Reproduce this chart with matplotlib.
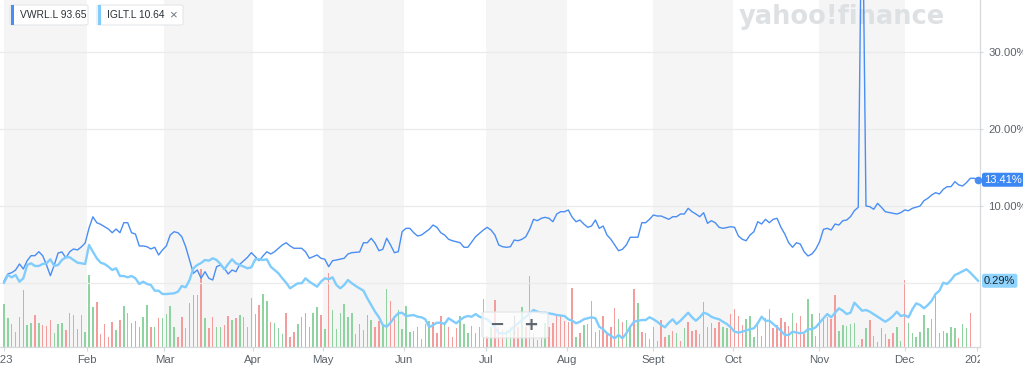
import matplotlib
matplotlib.use("Agg")
import matplotlib.pyplot as plt
from matplotlib.patches import FancyBboxPatch, Rectangle
from matplotlib.transforms import Bbox, TransformedBbox, blended_transform_factory, ScaledTranslation

# ---------------- data (trading-day index from 3 Jan 2023, % change) ----------------
vwrl_day = [0,1,2,3,4,5,6,7,8,9,10,11,12,13,14,15,16,17,18,19,20,21,22,23,24,25,26,27,28,29,
            30,31,32,33,34,35,36,37,38,39,40,41,42,43,44,45,46,47,48,49,50,51,52,53,54,55,56,57,58,59,
            60,61,63,64,65,66,67,68,69,70,72,73,74,75,77,78,79,80,81,82,83,84,85,86,88,89,90,92,93,94,
            95,96,97,98,99,100,101,102,103,104,105,106,107,108,110,111,112,113,114,115,116,118,119,120,
            122,123,124,125,126,127,128,129,130,131,132,133,134,135,136,137,138,139,140,141,142,143,144,
            145,146,147,148,149,150,151,152,153,154,155,156,157,158,159,160,161,162,164,165,166,167,168,
            169,170,172,173,174,175,176,177,178,179,180,181,182,183,184,185,186,188,189,190,191,192,193,
            194,195,196,197,198,199,200,201,202,203,204,205,206,207,208,209,210,211,212,213,214,215,216,
            217,218,219,220,221,222,223,224,225,226,227,228,230,231,232,233,234,235,237,238,239,240,241,
            242,243,244,245,246,247,248,249,250,251,252]
vwrl_pct = [0.26,1.17,1.34,1.69,2.47,1.82,2.90,3.55,3.55,4.06,3.55,2.34,0.95,2.34,3.90,4.03,3.25,4.06,4.42,4.29,
            4.68,5.19,7.14,8.60,7.83,7.62,7.31,7.01,6.53,7.01,6.53,7.83,7.83,6.53,6.36,4.81,4.81,4.71,4.42,4.64,
            3.64,4.29,4.81,6.23,6.66,6.53,6.01,4.71,2.99,1.26,1.69,0.61,1.47,0.61,0.39,2.12,2.34,1.91,1.17,1.69,
            1.47,2.43,3.34,3.94,3.42,2.90,3.51,4.06,3.77,4.06,4.94,5.23,4.81,4.51,4.51,4.06,3.21,3.42,3.64,3.21,
            3.08,2.12,2.90,2.99,3.21,3.77,3.94,4.03,5.23,5.23,5.81,5.16,4.19,4.38,5.81,4.94,3.94,4.06,6.66,7.10,
            7.10,6.53,6.10,6.23,6.97,7.53,7.23,6.53,6.23,5.68,5.49,5.23,4.64,4.64,6.01,6.45,6.88,7.23,6.88,6.23,
            4.94,4.71,4.64,4.71,5.58,5.49,5.68,6.01,6.97,8.27,8.09,8.40,8.53,8.40,7.96,8.96,9.26,9.26,9.48,8.53,
            7.96,8.18,7.66,7.23,7.40,8.18,7.10,7.40,6.23,5.68,4.94,4.19,4.38,4.94,5.94,5.94,7.83,7.83,8.27,8.83,
            8.70,8.70,8.27,8.61,8.61,8.96,8.96,9.70,9.26,8.96,8.61,9.13,7.75,8.09,7.83,7.23,7.10,7.31,7.23,6.10,
            5.68,5.49,6.23,6.66,7.96,7.66,8.27,7.83,8.27,8.40,7.23,6.36,5.23,4.64,5.23,5.06,4.06,3.51,3.77,4.38,
            5.36,6.97,7.10,6.88,7.66,7.53,8.09,8.18,8.61,9.39,9.83,55.0,10.00,9.91,9.57,10.35,9.83,9.26,9.05,8.96,
            9.13,9.48,9.39,9.70,10.00,10.69,11.00,11.43,11.73,11.56,12.17,12.51,12.51,13.16,12.73,12.60,13.03,
            13.60,13.60,13.41]

iglt_day = [0,1,2,3,4,5,6,7,8,9,10,11,12,13,14,15,16,17,18,19,20,21,22,23,24,25,26,27,28,29,
            30,31,32,33,34,35,36,37,38,39,40,41,42,44,45,46,47,48,49,50,51,52,53,54,55,56,57,58,59,
            60,61,62,63,64,65,66,67,68,69,70,71,72,73,74,76,77,78,79,81,82,83,84,85,86,87,88,89,90,
            91,92,93,94,95,96,97,98,99,100,101,102,103,104,106,107,108,109,110,112,113,114,115,117,118,
            119,120,121,122,123,125,127,128,130,132,135,137,138,139,140,142,143,145,146,147,148,149,150,
            152,153,154,155,156,158,159,160,161,162,163,164,165,166,167,168,169,170,171,172,173,174,175,
            176,177,178,179,180,181,182,183,184,185,186,187,188,189,190,191,193,194,195,196,197,198,199,
            200,201,202,203,204,206,207,208,209,210,211,212,213,214,215,216,217,218,219,220,221,222,223,
            224,226,227,228,229,230,231,232,233,234,235,236,237,238,239,240,241,242,243,244,245,246,247,
            249,250,251,252]
iglt_pct = [0.04,1.04,0.74,1.04,0.17,0.61,2.34,2.56,2.21,2.21,2.47,2.56,3.08,2.21,2.34,2.99,3.34,3.34,2.99,2.64,
            2.56,2.47,4.94,4.06,3.21,2.64,2.47,2.12,1.69,1.91,0.91,0.91,0.74,0.91,0.61,-0.13,0.17,-0.13,-0.26,-1.00,
            -1.00,-1.43,-1.43,-1.34,-1.13,-0.39,-0.56,0.39,1.91,2.34,2.60,2.99,2.90,3.21,2.99,2.47,1.78,2.47,3.08,
            2.56,2.34,2.12,1.91,2.04,3.08,3.08,2.99,3.08,2.12,1.69,1.26,0.61,0.04,-0.69,-0.04,-0.04,0.61,0.17,-0.48,
            0.17,0.61,0.48,0.74,-0.26,-0.69,-0.26,0.39,-0.04,-0.39,-0.69,-1.00,-1.99,-2.86,-3.73,-4.45,-5.45,-5.68,
            -5.16,-4.45,-3.94,-3.86,-4.29,-4.16,-4.38,-4.45,-4.71,-5.75,-5.16,-5.16,-5.32,-4.58,-5.23,-4.81,-4.45,
            -4.29,-4.38,-4.03,-4.38,-4.71,-5.68,-6.53,-6.53,-5.68,-4.38,-3.51,-3.73,-3.86,-3.86,-4.03,-4.16,-4.29,
            -4.71,-4.90,-5.23,-5.03,-4.71,-4.45,-4.58,-5.68,-6.01,-6.53,-7.18,-6.75,-7.18,-6.53,-5.68,-5.03,-4.90,
            -4.81,-4.81,-4.45,-4.71,-5.03,-5.45,-5.75,-5.16,-4.71,-5.32,-4.90,-4.38,-3.86,-4.45,-4.90,-4.45,-3.86,
            -4.03,-4.38,-4.58,-4.71,-5.03,-5.32,-5.75,-6.32,-6.45,-6.32,-6.01,-5.88,-5.23,-4.38,-4.90,-4.90,-5.32,
            -5.75,-6.19,-6.75,-6.75,-6.32,-6.53,-6.45,-6.01,-6.01,-5.75,-5.16,-4.58,-4.03,-4.45,-3.86,-3.29,-3.60,
            -4.03,-3.86,-2.56,-3.08,-3.60,-3.51,-3.73,-4.38,-4.71,-5.03,-4.71,-4.29,-3.73,-4.29,-4.16,-4.45,-3.42,
            -2.64,-2.86,-3.29,-2.86,-2.30,-1.43,-1.00,0.04,-0.13,0.39,1.04,1.26,1.78,1.34,0.82,0.29]

# relative daily volume (bars from day 0), with up (g) / down (r) flags
volume = [43,28.7,23,14.7,29.7,57,22,23.7,32,24.3,22,21,27,13.7,23,24.3,17,33.7,32,17.7,32,15.3,71.7,40.3,44.7,
          13,23,10.3,25.3,17,27,41,34.3,24.3,26.3,19.7,29.7,42,20.3,19.7,28.7,28.7,33,41,20.3,10.3,30.3,18.7,43.7,
          52,52,
          77.7,28.7,18.7,29.7,20.3,20.3,22,31,27,28.7,32,30.3,20.3,48.7,33,42,53,46.3,25.3,23.7,18.7,13,33.7,10.3,
          15.3,23,30.3,33.7,19.7,34.3,39.7,32,17.7,74.3,37,17.7,33.7,43,29.7,34.3,13,23,17,32,27,19.7,26.3,21,57.7,
          46.3,30.3,
          37,17.7,41,15.3,16.3,20.3,7.7,23,26.3,25.3,13.7,31,25.3,20.3,9.7,18.7,31,23,13.7,21,13.7,19.7,47.7,11,
          20.3,47,20.3,17,17,20.3,17,20.3,40.3,20.3,71,13.7,7,8.7,23.7,20.3,23.7,31,31,26.3,25.3,58.7,10.3,13.7,22,
          23,46.3,15.3,
          17,31,13.7,20.3,38.7,27.7,25.3,27,19.7,58,43.7,15.3,13.7,7.7,20.3,6.3,27,9.7,12,16.3,13.7,6.3,18.7,25.3,
          16.3,17,13,45.3,20.3,23.7,18.7,25.3,20.3,18.7,33,37.7,31,22,27.7,31,9.7,23,11,28.7,37.7,18.7,22,28.7,25.3,
          21,34.3,23.7,
          31,13,47.7,33,11,33.7,29.7,30.3,27.7,52,16.3,22,21,23,24.3,2,7.7,18.7,27,11,5.3,18.7,13,7.7,14.3,19.7,6.3,
          67,24.3,13.7,10.3,15.3,32,18.7,27.7,52,13.7,16.3,14.3,20.3,18.7,8.7,23,18.7,33.7]
volume_dir = ("gggggrggrgrrrgggrggrggggrrrrrgrggrrrggrgrggggrrgrrg"
              "rgrrggrrgrggggrrggrgggrrrgrrrggrgrgggggggrgrgrrggrr"
              "gggggrgggrrrgrrrggggrggrgrrrggrrgrgggggrrrrrrrgrgggr"
              "rrrrrgrggrgrggrgrrgrgrgrrrgrgrrrggrrrrgggrgrgrrrrrgr"
              "rrggggrgrrggggggrgrgrrrrrggrgggggggrgggggrggr")

month_pos = [0, 21.4, 41.5, 64.4, 82.6, 103.5, 124.7, 145.6, 168.0, 188.7, 210.9, 233.0, 251.7]
month_labels = ["2023", "Feb", "Mar", "Apr", "May", "Jun", "Jul", "Aug", "Sept", "Oct", "Nov", "Dec", "2024"]
pct_ticks = [10, 20, 30]
grid_levels = [0, 10, 20, 30]

legend_items = [("VWRL.L", "93.65"), ("IGLT.L", "10.64")]
last_vwrl = 13.41
last_iglt = 0.29

# ---------------- style ----------------
C_VWRL = "#4a8ef4"
C_IGLT = "#80cdfd"
C_GREEN = "#8fd3a1"
C_RED = "#f49c9c"
C_TEXT = "#5b636a"
FONT = "Liberation Sans"
plt.rcParams["font.family"] = [FONT, "DejaVu Sans"]

W, H = 1023, 372
fig = plt.figure(figsize=(W / 100, H / 100), dpi=100)
fig.patch.set_facecolor("white")
rect = [0, 25 / H, 980 / W, 347 / H]

axv = fig.add_axes(rect)
ax = fig.add_axes(rect, sharex=axv)
ax.patch.set_visible(False)

# month bands
for i in range(0, len(month_pos) - 1, 2):
    axv.axvspan(month_pos[i], month_pos[i + 1], color="#f5f5f5", lw=0, zorder=0)

# watermark (behind the lines)
axv.text(842 / W, 1 - 17 / H, "yahoo!finance", transform=fig.transFigure, ha="center", va="center",
         fontsize=18.5, fontweight="bold", color="#dee1e4", family="DejaVu Sans", zorder=1, clip_on=False)

# volume bars
n = min(len(volume), len(volume_dir))
vcols = [C_GREEN if volume_dir[i] == "g" else C_RED for i in range(n)]
axv.bar(list(range(n)), volume[:n], width=0.38, color=vcols, lw=0, zorder=2)
axv.set_ylim(0, 347)
axv.set_yticks([])
for s in axv.spines.values():
    s.set_visible(False)

# grid lines
for g in grid_levels:
    ax.axhline(g, color="#ebebeb", lw=0.9, zorder=1)

ax.plot(vwrl_day, vwrl_pct, color=C_VWRL, lw=1.0, zorder=4, solid_joinstyle="round")
ax.plot(iglt_day, iglt_pct, color=C_IGLT, lw=1.7, zorder=5, solid_joinstyle="round")
ax.plot([vwrl_day[-1]], [vwrl_pct[-1]], "o", color=C_VWRL, ms=4.5, zorder=6, clip_on=False)

ax.set_xlim(-1.035, 252.5)
ax.set_ylim((283 - 347) / 7.7, 283 / 7.7)

# axes styling
for side in ["top", "left"]:
    ax.spines[side].set_visible(False)
ax.spines["right"].set_color("#d6d9dc")
ax.spines["bottom"].set_color("#d6d9dc")
ax.spines["right"].set_linewidth(0.9)
ax.spines["bottom"].set_linewidth(0.9)
ax.yaxis.tick_right()
ax.set_yticks(pct_ticks)
ax.set_yticklabels([f"{t:.2f}%" for t in pct_ticks])
ax.tick_params(axis="y", length=2, color="#d6d9dc", pad=4, labelsize=8.2, labelcolor=C_TEXT)
ax.set_xticks(month_pos)
ax.set_xticklabels(month_labels)
ax.tick_params(axis="x", length=3, color="#d6d9dc", pad=3, labelsize=8.2, labelcolor=C_TEXT)
axv.tick_params(axis="x", length=0, labelbottom=False)

ticks = ax.xaxis.get_major_ticks()
first = ticks[0].label1
first.set_transform(first.get_transform() + ScaledTranslation(-4 / 100, 0, fig.dpi_scale_trans))
clipbox = TransformedBbox(Bbox.from_extents(0, 0, 980 / W, 1), fig.transFigure)
lab = ticks[-1].label1
lab.set_clip_on(True)
lab.set_clip_box(clipbox)

# last value tags
tr = blended_transform_factory(ax.transAxes, ax.transData)
ax.text(1.0 + 4 / 980, last_vwrl, f"{last_vwrl:.2f}%", transform=tr, ha="left", va="center",
        fontsize=8, color="white", zorder=10, clip_on=False,
        bbox=dict(boxstyle="round,pad=0.18,rounding_size=0.2", fc="#3b87f3", ec="none"))
ax.text(1.0 + 4 / 980, last_iglt, f"{last_iglt:.2f}%", transform=tr, ha="left", va="center",
        fontsize=8, color="#1d2228", zorder=10, clip_on=False,
        bbox=dict(boxstyle="round,pad=0.18,rounding_size=0.2", fc="#8fd4ff", ec="none"))

# legend chips
def px(x, y):
    return x / W, 1 - y / H

chip_x = [10, 97]
chip_w = [78, 86]
chip_c = [C_VWRL, C_IGLT]
for k, (name, val) in enumerate(legend_items):
    x0 = chip_x[k]
    fx, fy = px(x0, 25)
    fig.patches.append(FancyBboxPatch((fx, fy), chip_w[k] / W, 20 / H,
                                      boxstyle="round,pad=0,rounding_size=0.003",
                                      transform=fig.transFigure, fc="white", ec="#e4e6e8", lw=0.8, zorder=20))
    bx, by = px(x0 + 1, 25)
    fig.patches.append(Rectangle((bx, by), 3 / W, 20 / H, transform=fig.transFigure,
                                 fc=chip_c[k], ec="none", zorder=21))
    tx, ty = px(x0 + 10, 15)
    fig.text(tx, ty, f"{name} {val}", ha="left", va="center", fontsize=7.4,
             color="#2c3238", zorder=22)
fig.text(*px(173, 15), "×", ha="center", va="center", fontsize=9.5, color="#6e757c", zorder=22)

# zoom control
zx, zy = px(482, 338)
fig.patches.append(FancyBboxPatch((zx, zy), 66 / W, 26 / H,
                                  boxstyle="round,pad=0,rounding_size=0.004",
                                  transform=fig.transFigure, fc=(1, 1, 1, 0.75),
                                  ec="#e2e4e6", lw=0.8, zorder=20))
fig.text(*px(497, 325), "−", ha="center", va="center", fontsize=13, fontweight="bold",
         color="#60676e", zorder=21, family="DejaVu Sans")
fig.text(*px(531, 325), "+", ha="center", va="center", fontsize=13, fontweight="bold",
         color="#60676e", zorder=21, family="DejaVu Sans")
sx, sy = px(514, 334)
fig.lines.append(plt.Line2D([sx, sx], [sy, sy + 18 / H], transform=fig.transFigure,
                            color="#e2e4e6", lw=0.8, zorder=21))

fig.savefig("out.png", dpi=100, facecolor="white")
